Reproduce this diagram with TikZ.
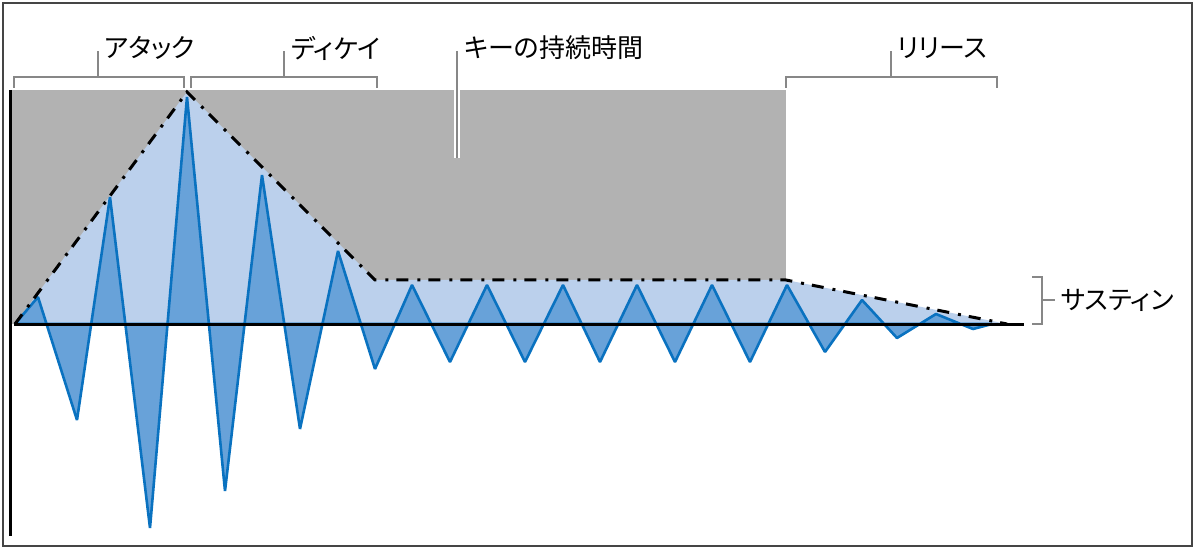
\documentclass[tikz,border=0pt]{standalone}
\usepackage{fontspec}
\newfontfamily\jpfont[CharacterWidth=AlternateProportional]{Noto Sans CJK JP}
\usepackage{tikz}

\definecolor{keygray}{HTML}{B2B2B2}
\definecolor{envblue}{HTML}{BBD0EC}
\definecolor{wavefill}{HTML}{68A2D9}
\definecolor{wavestroke}{HTML}{0A72C0}
\definecolor{bracketgray}{HTML}{878787}
\definecolor{framegray}{HTML}{454545}

\begin{document}
\begin{tikzpicture}[x=1pt, y=-1pt,
    envline/.style={line width=3pt, dash pattern=on 12pt off 9pt on 3pt off 8pt},
    wave/.style={draw=wavestroke, fill=wavefill, line width=2.6pt, line join=bevel},
    bracket/.style={draw=bracketgray, line width=2.4pt},
    label/.style={anchor=west, inner sep=0pt, font=\jpfont\fontsize{26}{26}\selectfont},
    ]
\useasboundingbox (0,0) rectangle (1200,556);

% Key held area
\fill[keygray] (10,90) rectangle (786,324);

% Envelope
\fill[envblue] (15,324) -- (187,92) -- (375,280) -- (786,280) -- (1007,324) -- cycle;

% Waveform
\draw[wave] (15,324) -- (38,297) -- (77,420) -- (110,197) -- (150,528)
    -- (187,97) -- (225,491) -- (262,175) -- (300,429) -- (338,251)
    -- (375,369) -- (412,285) -- (450,362) -- (487,285) -- (525,362)
    -- (563,285) -- (600,362) -- (637,285) -- (675,362) -- (712,285)
    -- (750,362) -- (787,285) -- (825,352) -- (862,300) -- (897,338)
    -- (936,314) -- (973,329) -- (992,324) -- cycle;

% Axes
\draw[line width=3pt] (14,324) -- (1024,324);
\draw[line width=3pt] (10,90) -- (10,536);

% Envelope outline
\draw[envline] (15,324) -- (187,92) -- (375,280) -- (786,280) -- (1007,324);

% Labels
\node[label] (attack) at (104,48) {アタック};
\node[label] (decay) at (291,48) {ディケイ};
\node[label] (held) at (464,48) {キーの持続時間};
\node[label] (release) at (897,48) {リリース};
\node[label] (sustain) at (1061,300) {サスティン};

% Brackets
\draw[bracket] (14,88) -- (14,77) -- (184,77) -- (184,88);
\draw[bracket] (98,77) -- (98,51);
\draw[bracket] (191,88) -- (191,77) -- (377,77) -- (377,88);
\draw[bracket] (284,77) -- (284,51);
\draw[bracket] (786,88) -- (786,77) -- (997,77) -- (997,88);
\draw[bracket] (891,77) -- (891,51);
\draw[draw=white, line width=5.5pt] (457,90) -- (457,158);
\draw[bracket] (457,51) -- (457,158);
\draw[bracket] (1032,277) -- (1042,277) -- (1042,324) -- (1032,324);
\draw[bracket] (1042,300) -- (1055,300);

% Frame
\draw[framegray, line width=2pt] (3,3) rectangle (1192,546);

\end{tikzpicture}
\end{document}
